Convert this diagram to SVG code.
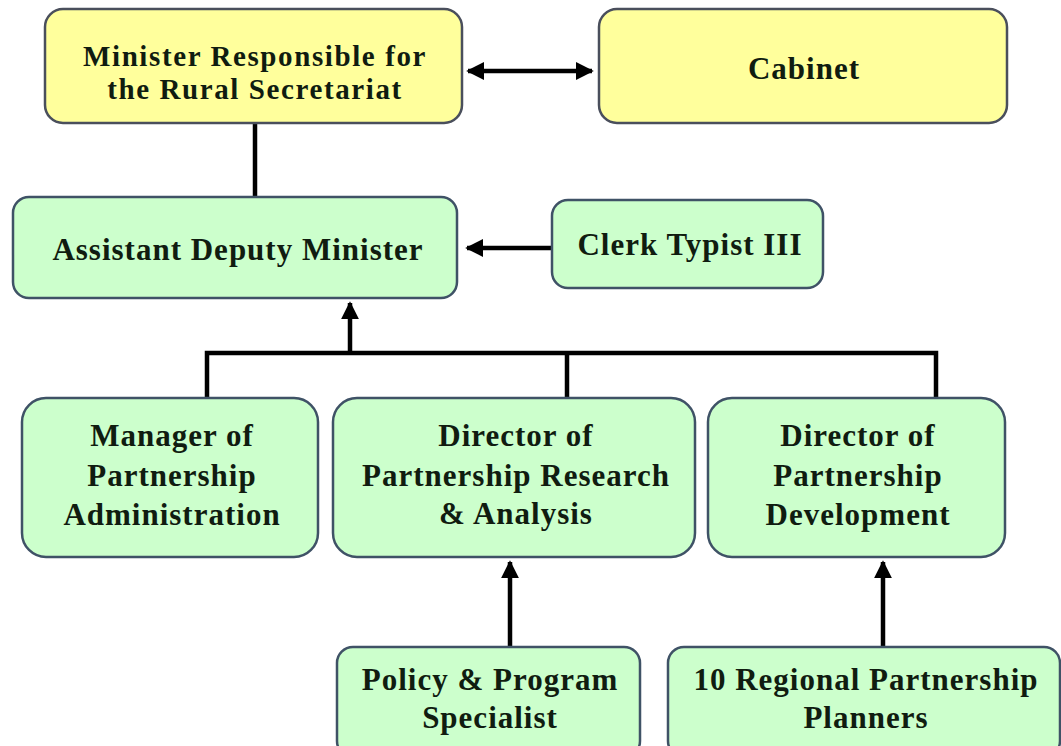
<svg xmlns="http://www.w3.org/2000/svg" width="1061" height="746" viewBox="0 0 1061 746">
<style>
.y{fill:#ffff9c;stroke:#4a4f5c;stroke-width:2.5}
.g{fill:#ccffcc;stroke:#3f5266;stroke-width:2.5}
text{font-weight:bold;font-size:31px;letter-spacing:1px;fill:#101c10;text-anchor:middle}
.s{font-size:29px;letter-spacing:1.6px}
.c{stroke:#000;stroke-width:4.5;fill:none}
</style>
<defs>
<marker id="ah" viewBox="0 0 10 10" refX="9" refY="5" markerWidth="4" markerHeight="4" orient="auto-start-reverse" markerUnits="strokeWidth">
<path d="M0,0 L10,5 L0,10 z" fill="#000"/>
</marker>
</defs>
<rect width="1061" height="746" fill="#fff"/>
<g id="connectors">
<line class="c" x1="468" y1="71" x2="592" y2="71" marker-start="url(#ah)" marker-end="url(#ah)"/>
<line class="c" x1="255" y1="123" x2="255" y2="197"/>
<line class="c" x1="552" y1="248" x2="467" y2="248" marker-end="url(#ah)"/>
<line class="c" x1="350" y1="353" x2="350" y2="303" marker-end="url(#ah)"/>
<polyline class="c" points="207,398 207,353 936,353 936,398"/>
<line class="c" x1="567" y1="353" x2="567" y2="398"/>
<line class="c" x1="510" y1="647" x2="510" y2="562" marker-end="url(#ah)"/>
<line class="c" x1="883" y1="647" x2="883" y2="562" marker-end="url(#ah)"/>
</g>
<g font-family="Liberation Serif, DejaVu Serif, serif">
<g id="minister"><rect class="y" x="45" y="9" width="417" height="114" rx="18"/><text class="s" x="255" y="66">Minister Responsible for</text><text class="s" x="255" y="99">the Rural Secretariat</text></g>
<g id="cabinet"><rect class="y" x="599" y="9" width="408" height="114" rx="18"/><text x="804" y="79">Cabinet</text></g>
<g id="adm"><rect class="g" x="13" y="197" width="444" height="101" rx="16"/><text x="238" y="260">Assistant Deputy Minister</text></g>
<g id="clerk"><rect class="g" x="552" y="200" width="271" height="88" rx="16"/><text x="690" y="255">Clerk Typist III</text></g>
<g id="manager"><rect class="g" x="22" y="398" width="296" height="159" rx="24"/><text x="172" y="446">Manager of</text><text x="172" y="486">Partnership</text><text x="172" y="525">Administration</text></g>
<g id="research"><rect class="g" x="333" y="398" width="362" height="159" rx="24"/><text x="516" y="446">Director of</text><text x="516" y="486">Partnership Research</text><text x="516" y="524">&amp; Analysis</text></g>
<g id="development"><rect class="g" x="708" y="398" width="297" height="159" rx="24"/><text x="858" y="446">Director of</text><text x="858" y="486">Partnership</text><text x="858" y="525">Development</text></g>
<g id="policy"><rect class="g" x="337" y="647" width="303" height="110" rx="16"/><text x="490" y="690">Policy &amp; Program</text><text x="490" y="728">Specialist</text></g>
<g id="regional"><rect class="g" x="668" y="647" width="392" height="110" rx="16"/><text x="866" y="690">10 Regional Partnership</text><text x="866" y="728">Planners</text></g>
</g>
</svg>
